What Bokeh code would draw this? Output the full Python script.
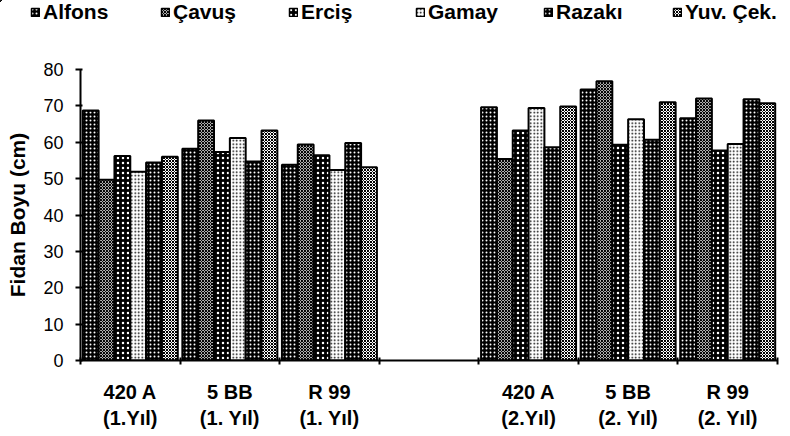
import numpy as np
from bokeh.plotting import figure
from bokeh.models import ColumnDataSource, FixedTicker, Legend, LegendItem, Range1d
from bokeh.transform import dodge
from bokeh.embed import file_html
from bokeh.resources import INLINE

# ---- data ----
categories = ["420 A\n(1.Yıl)", "5 BB\n(1. Yıl)", "R 99\n(1. Yıl)", "",
              "420 A\n(2.Yıl)", "5 BB\n(2. Yıl)", "R 99\n(2. Yıl)"]
series_names = ["Alfons", "Çavuş", "Erciş", "Gamay", "Razakı", "Yuv. Çek."]
alfons = [68.7, 58.2, 53.8, np.nan, 69.6, 74.5, 66.6]
cavus = [49.7, 66.0, 59.4, np.nan, 55.4, 76.8, 72.0]
ercis = [56.2, 57.3, 56.4, np.nan, 63.2, 59.3, 57.7]
gamay = [51.9, 61.2, 52.4, np.nan, 69.4, 66.3, 59.5]
razaki = [54.4, 54.7, 59.8, np.nan, 58.6, 60.7, 71.8]
yuvcek = [56.0, 63.2, 53.1, np.nan, 69.8, 71.0, 70.7]
y_ticks = [0, 10, 20, 30, 40, 50, 60, 70, 80]

values = [alfons, cavus, ercis, gamay, razaki, yuvcek]
centers = [i + 0.5 for i in range(len(categories))]
data = {"x": centers}
keys = ["s%d" % j for j in range(len(series_names))]
for k, v in zip(keys, values):
    data[k] = v
src = ColumnDataSource(data)

FONT = "Liberation Sans"
LEG_H = 30

styles = [
    dict(fill_color="black", hatch_pattern="dot", hatch_color="white", hatch_scale=4, hatch_weight=1.5),
    dict(fill_color="white", hatch_pattern="diagonal_cross", hatch_color="black", hatch_scale=3, hatch_weight=1.2),
    dict(fill_color="black", hatch_pattern="dot", hatch_color="white", hatch_scale=5, hatch_weight=1.2),
    dict(fill_color="white", hatch_pattern="dot", hatch_color="black", hatch_scale=3.5, hatch_weight=1.5),
    dict(fill_color="black", hatch_pattern="dot", hatch_color="white", hatch_scale=4, hatch_weight=1.8),
    dict(fill_color="white", hatch_pattern="diagonal_cross", hatch_color="black", hatch_scale=3, hatch_weight=1.0),
]

# ---- main chart ----
p = figure(width=790, height=436 - LEG_H, output_backend="svg", toolbar_location=None,
           x_range=Range1d(0, 7), y_range=Range1d(0, 80),
           min_border_left=80, min_border_right=13, min_border_top=69 - LEG_H,
           min_border_bottom=76)
p.outline_line_color = None
p.grid.visible = False

bw = 0.159
for j, (k, st) in enumerate(zip(keys, styles)):
    off = (j - 2.5) * bw
    p.vbar(x=dodge("x", off), top=k, bottom=0, width=bw, source=src,
           line_color="black", line_width=2, **st)

yax = p.yaxis[0]
yax.ticker = FixedTicker(ticks=y_ticks)
yax.axis_line_width = 2
yax.major_tick_line_width = 2
yax.major_tick_out = 5
yax.major_tick_in = 2
yax.minor_tick_line_color = None
yax.major_label_text_font = FONT
yax.major_label_text_font_size = "18px"
yax.major_label_text_color = "black"
yax.major_label_standoff = 12
yax.axis_label = "Fidan Boyu (cm)"
yax.axis_label_text_font = FONT
yax.axis_label_text_font_size = "21px"
yax.axis_label_text_font_style = "bold"
yax.axis_label_text_color = "black"
yax.axis_label_standoff = 11

xax = p.xaxis[0]
xax.ticker = FixedTicker(ticks=[c for c, lab in zip(centers, categories) if lab],
                         minor_ticks=list(range(len(categories) + 1)))
xax.major_label_overrides = {c: lab for c, lab in zip(centers, categories)}
xax.axis_line_width = 2
xax.major_tick_out = 0
xax.major_tick_in = 0
xax.minor_tick_line_width = 2
xax.minor_tick_out = 4
xax.minor_tick_in = 3
xax.major_label_text_font = FONT
xax.major_label_text_font_size = "20px"
xax.major_label_text_font_style = "bold"
xax.major_label_text_color = "black"
xax.major_label_standoff = 16

# ---- legend strip (separate root, same series styles; its bars lie far outside its view) ----
lf = figure(width=790, height=LEG_H, output_backend="svg", toolbar_location=None,
            x_axis_type=None, y_axis_type=None, min_border=0,
            x_range=Range1d(1000, 1001), y_range=Range1d(-1001, -1000))
lf.outline_line_color = None
lf.grid.visible = False
leg_x = [30, 160, 288, 415, 543, 672]
for j, (name, k, st, lx) in enumerate(zip(series_names, keys, styles, leg_x)):
    off = (j - 2.5) * bw
    dr = lf.vbar(x=dodge("x", off), top=k, bottom=0, width=bw, source=src,
                 line_color="black", line_width=1.5, **st)
    lg = Legend(items=[LegendItem(label=name, renderers=[dr])],
                location=(lx, 6), orientation="horizontal",
                glyph_width=10, glyph_height=10, label_standoff=3,
                padding=0, margin=0, spacing=0,
                border_line_alpha=0, background_fill_alpha=0,
                label_text_font=FONT, label_text_font_size="21px",
                label_text_font_style="bold", label_text_color="black")
    lf.add_layout(lg)

open("out.html", "w").write(file_html([lf, p], INLINE))
